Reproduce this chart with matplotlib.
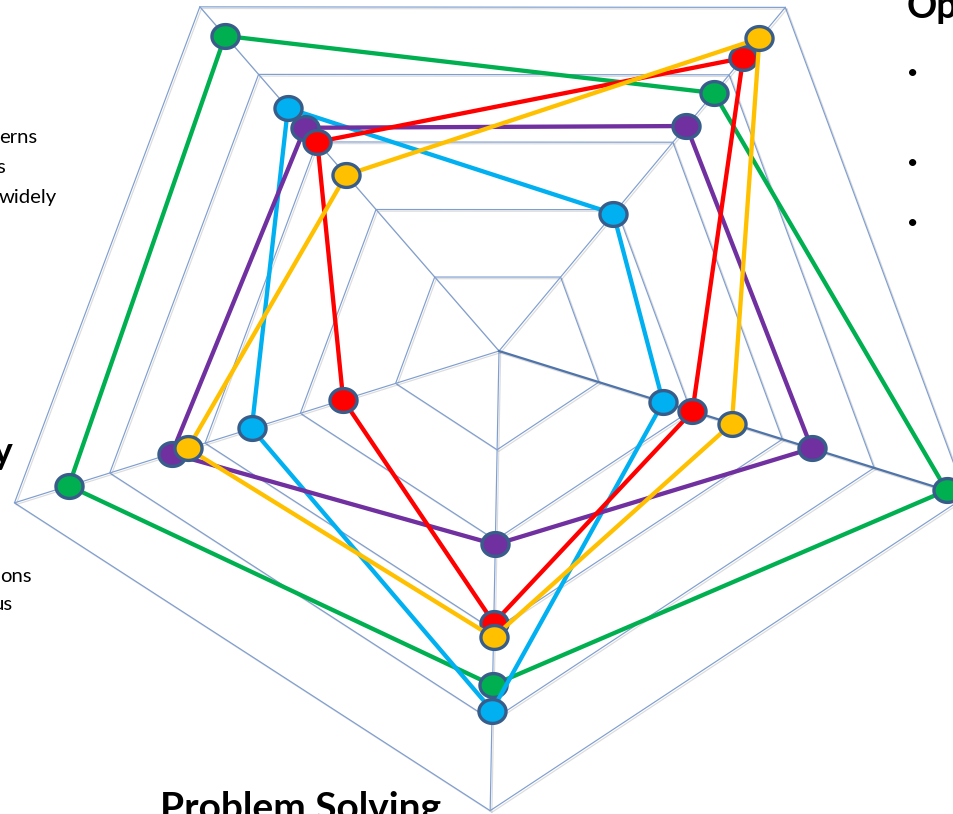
import numpy as np
import matplotlib
matplotlib.use("Agg")
import matplotlib.pyplot as plt
import matplotlib.patheffects as pe
from matplotlib.path import Path
from matplotlib.markers import MarkerStyle

plt.rcParams['font.family'] = ['Lato', 'DejaVu Sans']

# spokes go clockwise from the value axis (lower right): lower right, bottom, left, upper left, upper right
rings = [1, 2, 3, 4, 5]
green_vals = [4.79, 3.61, 4.43, 4.57, 3.73]
blue_vals = [1.70, 3.89, 2.51, 3.50, 1.94]
purple_vals = [3.32, 2.05, 3.35, 3.21, 3.24]
red_vals = [2.02, 2.92, 1.55, 3.00, 4.25]
yellow_vals = [2.45, 3.08, 3.18, 2.51, 4.54]

bottom_title = "Problem Solving"
top_title = "Op"
left_bold = "y"
left_lines = ["erns", "s", "widely", "ons", "us"]

# the slide shows the chart slightly skewed, so every spoke gets its own angle and length
CX, CY = 499, 351
AXIS_DEG = np.array([-17.3, -91.1, 197.4, 131.0, 50.2])
AXIS_PX = np.array([96.1, 90.25, 99.85, 89.5, 87.75])
GAP = 8.5

def radarXY(vals):
  d = GAP + np.asarray(vals, float) * AXIS_PX
  a = np.radians(AXIS_DEG)
  x = CX + d * np.cos(a)
  y = CY - d * np.sin(a)
  return np.append(x, x[0]), np.append(y, y[0])

fig = plt.figure(figsize=(9.54, 8.14), dpi=100)
ax = fig.add_axes([0, 0, 1, 1])
ax.set_xlim(0, 954)
ax.set_ylim(814, 0)
ax.axis('off')

shadow = [pe.SimpleLineShadow(offset=(1.2, -1.2), shadow_color='0.45', alpha=0.25), pe.Normal()]
gridColor = '#7F9ED0'

for r in rings:
  gx, gy = radarXY([r] * 5)
  ax.plot(gx, gy, color=gridColor, lw=0.85, path_effects=shadow, zorder=1)

ox, oy = radarXY([rings[-1]] * 5)
for k in range(5):
  if k == 0:
    ax.plot([CX, ox[k]], [CY, oy[k]], color='#4F74AA', lw=1.6, path_effects=shadow, zorder=2)
  else:
    ax.plot([CX, ox[k]], [CY, oy[k]], color=gridColor, lw=0.85, path_effects=shadow, zorder=1)

t = np.linspace(0, 2 * np.pi, 80)
oval = MarkerStyle(Path(np.column_stack([np.cos(t), 0.88 * np.sin(t)]), closed=True))

series = [(green_vals, '#00B050'), (blue_vals, '#00B0F0'), (purple_vals, '#7030A0'),
          (red_vals, '#FF0000'), (yellow_vals, '#FFC000')]
z = 3
for vals, col in series:
  sx, sy = radarXY(vals)
  ax.plot(sx, sy, color=col, lw=3.1, solid_joinstyle='round', zorder=z)
  ax.plot(sx[:-1], sy[:-1], ls='none', marker=oval, ms=19.5, mfc=col, mec='#385D8A', mew=2.4, zorder=z + 0.5)
  z += 1

# text of the slide around the chart (cut by the crop, as in the slide)
ax.text(160, 791, bottom_title, fontsize=28, fontweight='bold', ha='left', va='top')
ax.text(907, 18, top_title, fontsize=27, fontweight='bold', ha='left', va='baseline')
for yy in [73, 163, 223]:
  ax.text(913, yy, u'\u2022', fontsize=14, ha='center', va='center')
ax.text(13, 464, left_bold, fontsize=27, fontweight='bold', ha='right', va='baseline')
for s, xx, yy in zip(left_lines, [37, 5, 57, 32, 13], [143, 173, 203, 582, 610]):
  ax.text(xx, yy, s, fontsize=14.6, ha='right', va='baseline')

fig.savefig('out.png', dpi=100)
